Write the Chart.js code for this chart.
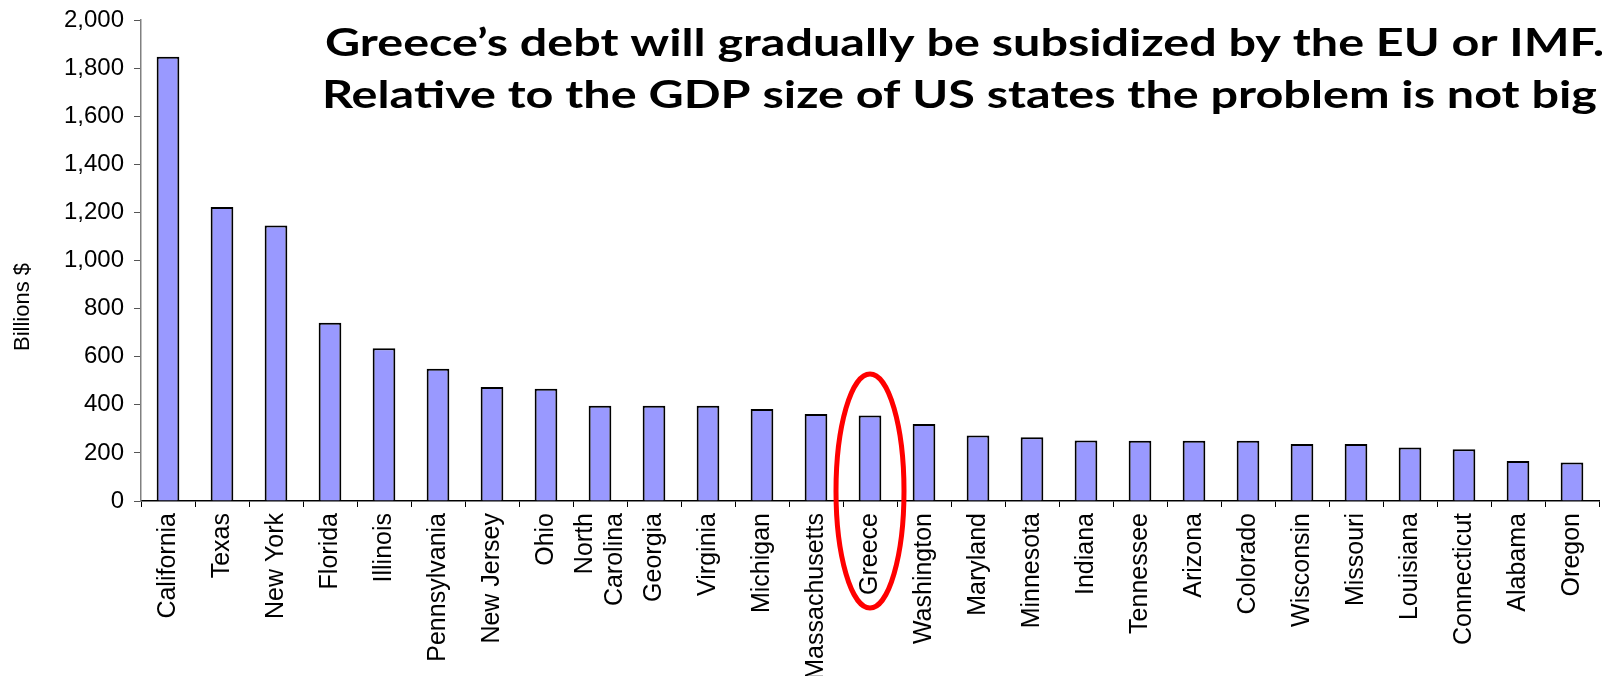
<!DOCTYPE html>
<html>
<head>
<meta charset="utf-8">
<title>GDP by state</title>
<script src="https://cdn.jsdelivr.net/npm/chart.js@4.4.1/dist/chart.umd.min.js"></script>
<style>
  html, body { margin: 0; padding: 0; background: #fff; }
  #wrap { width: 1602px; height: 676px; }
</style>
</head>
<body>
<div id="wrap"><canvas id="c" width="1602" height="676"></canvas></div>
<script>
// GDP, billions of US dollars
const categories = [
  'California', 'Texas', 'New York', 'Florida', 'Illinois', 'Pennsylvania',
  'New Jersey', 'Ohio', ['North', 'Carolina'], 'Georgia', 'Virginia', 'Michigan',
  'Massachusetts', 'Greece', 'Washington', 'Maryland', 'Minnesota', 'Indiana',
  'Tennessee', 'Arizona', 'Colorado', 'Wisconsin', 'Missouri', 'Louisiana',
  'Connecticut', 'Alabama', 'Oregon'
];
const gdpValues = [
  1847, 1222, 1146, 741, 635, 550,
  474, 467, 396, 396, 396, 383,
  362, 355, 320, 272, 265, 252,
  251, 251, 251, 237, 237, 222,
  215, 166, 160
];
const yTicks = { min: 0, max: 2000, step: 200 };
const yAxisTitle = 'Billions $';
const headline = [
  'Greece\u2019s debt will gradually be subsidized by the EU or IMF.',
  'Relative to the GDP size of US states the problem is not big'
];
const highlighted = 'Greece';

const labelFont = "'Liberation Sans', Arial, sans-serif";
const xLabelSize = 25;
const xLabelLineHeight = 1.2;

// Headline in two lines, stretched to a fixed line width
const headlinePlugin = {
  id: 'headline',
  afterDraw(chart) {
    const ctx = chart.ctx;
    const lines = [
      { text: headline[0], fitText: headline[0].replace(/\.$/, ''), x: 325, y: 56, w: 1272 },
      { text: headline[1], fitText: headline[1], x: 322, y: 108, w: 1275 }
    ];
    ctx.save();
    ctx.fillStyle = '#000';
    ctx.font = "bold 38px 'Comic Sans MS', Lato, sans-serif";
    ctx.textBaseline = 'alphabetic';
    ctx.textAlign = 'left';
    lines.forEach(l => {
      const m = ctx.measureText(l.fitText).width;
      const sx = l.w / m;
      ctx.save();
      ctx.translate(l.x, l.y);
      ctx.scale(sx, 1);
      ctx.fillText(l.text, 0, 0);
      ctx.restore();
    });
    ctx.restore();
  }
};

// Rotated y-axis caption
const yCaptionPlugin = {
  id: 'yCaption',
  afterDraw(chart) {
    const ctx = chart.ctx;
    ctx.save();
    ctx.translate(23, 307);
    ctx.rotate(-Math.PI / 2);
    ctx.fillStyle = '#000';
    ctx.font = "22px " + labelFont;
    ctx.textAlign = 'center';
    ctx.textBaseline = 'middle';
    ctx.fillText(yAxisTitle, 0, 0);
    ctx.restore();
  }
};

// Centre multi-line rotated category labels on their tick
const centerMultilinePlugin = {
  id: 'centerMultiline',
  beforeDraw(chart) {
    const xs = chart.scales.x;
    const items = xs.getLabelItems();
    const lh = xLabelSize * xLabelLineHeight;
    items.forEach(item => {
      if (Array.isArray(item.label) && !item._centered) {
        item.options.translation[0] -= (item.label.length - 1) * lh / 2;
        item._centered = true;
      }
    });
  }
};

// Red ring around the highlighted bar
const ringPlugin = {
  id: 'ring',
  afterDraw(chart) {
    const idx = categories.indexOf(highlighted);
    if (idx < 0) return;
    const xs = chart.scales.x, ys = chart.scales.y;
    const cx = xs.getPixelForValue(idx);
    const cy = ys.getPixelForValue(0) - 10;
    const ctx = chart.ctx;
    ctx.save();
    ctx.beginPath();
    ctx.ellipse(cx, cy, 34, 117, 0, 0, Math.PI * 2);
    ctx.strokeStyle = '#ff0000';
    ctx.lineWidth = 5;
    ctx.stroke();
    ctx.restore();
  }
};

new Chart(document.getElementById('c'), {
  type: 'bar',
  data: {
    labels: categories,
    datasets: [{
      data: gdpValues,
      backgroundColor: '#9999ff',
      borderColor: '#000000',
      borderWidth: 2,
      categoryPercentage: 1,
      barPercentage: 0.42
    }]
  },
  options: {
    responsive: false,
    animation: false,
    locale: 'en-US',
    layout: { padding: { top: 20, right: 3, left: 0, bottom: 0 } },
    plugins: {
      legend: { display: false },
      tooltip: { enabled: false },
      title: { display: false }
    },
    scales: {
      x: {
        grid: {
          offset: true,
          drawOnChartArea: false,
          drawTicks: true,
          tickLength: 6,
          color: '#000',
          lineWidth: 1
        },
        border: { color: '#000', width: 1.5 },
        ticks: {
          autoSkip: false,
          minRotation: 90,
          maxRotation: 90,
          padding: 6,
          color: '#000',
          font: { family: labelFont, size: xLabelSize, lineHeight: xLabelLineHeight }
        },
        afterFit(scale) {
          scale.height = 175;
          scale.paddingLeft = 0;
          scale.paddingRight = 0;
        }
      },
      y: {
        min: yTicks.min,
        max: yTicks.max,
        grid: {
          drawOnChartArea: false,
          drawTicks: true,
          tickLength: 7,
          color: '#555',
          lineWidth: 1
        },
        border: { color: '#808080', width: 1.5 },
        ticks: {
          stepSize: yTicks.step,
          padding: 10,
          color: '#000',
          font: { family: labelFont, size: 24 }
        },
        afterFit(scale) {
          scale.width = 141;
          scale.paddingTop = 0;
          scale.paddingBottom = 0;
        }
      }
    }
  },
  plugins: [centerMultilinePlugin, headlinePlugin, yCaptionPlugin, ringPlugin]
});
</script>
</body>
</html>
